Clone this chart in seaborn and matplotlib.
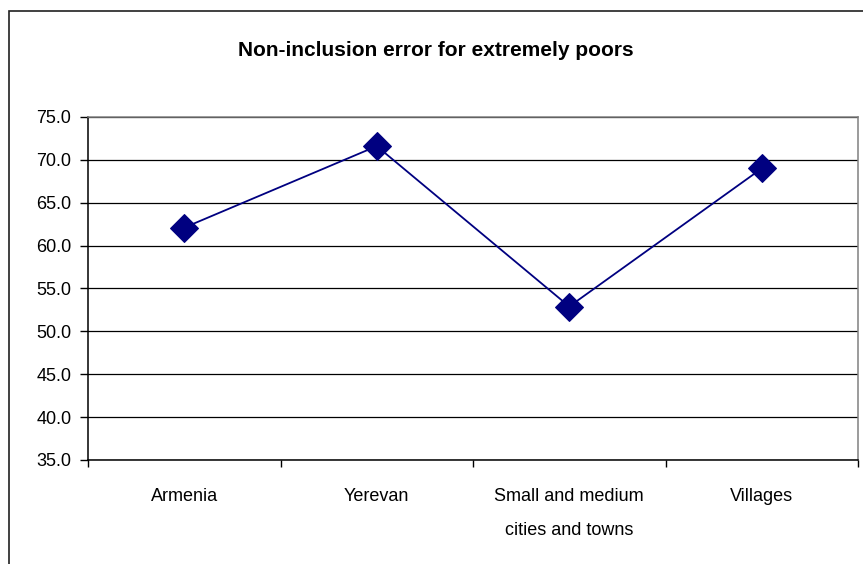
import numpy as np
import pandas as pd
import matplotlib.pyplot as plt
import seaborn as sns
from matplotlib.patches import Rectangle

regions = ['Armenia', 'Yerevan', 'Small and medium\ncities and towns', 'Villages']
error_pct = [62.1, 71.6, 52.9, 69.0]
y_ticks = [35, 40, 45, 50, 55, 60, 65, 70, 75]

sns.set_theme(style='white')
plt.rcParams['font.family'] = ['Liberation Sans', 'DejaVu Sans']
plt.rcParams['text.color'] = 'black'
plt.rcParams['xtick.color'] = 'black'
plt.rcParams['ytick.color'] = 'black'
plt.rcParams['xtick.bottom'] = True
plt.rcParams['ytick.left'] = True

df = pd.DataFrame({'region': regions, 'value': error_pct})

fig = plt.figure(figsize=(8.63, 5.64), dpi=100)
ax = fig.add_axes([88 / 863, 1 - 460 / 564, (858 - 88) / 863, (460 - 117) / 564])

sns.lineplot(ax=ax, data=df, x='region', y='value', sort=False,
             color='#000080', linewidth=1.3, marker='D', markersize=14,
             markeredgecolor='#000080', markerfacecolor='#000080')

ax.set_xlim(-0.5, 3.5)
ax.set_ylim(35, 75)
ax.set_yticks(y_ticks)
ax.set_yticklabels([f'{v:.1f}' for v in y_ticks], fontsize=13)
ax.set_xticks(range(len(regions)))
ax.set_xticklabels(regions, fontsize=13, linespacing=2.35)
ax.set_xticks([-0.5, 0.5, 1.5, 2.5, 3.5], minor=True)
ax.tick_params(axis='x', which='major', bottom=True, length=0, pad=20)
ax.tick_params(axis='x', which='minor', bottom=True, length=5, width=1, color='black', direction='out')
ax.tick_params(axis='y', left=True, length=6, width=1, color='black', direction='out', pad=6)
for lbl in ax.get_xticklabels():
    lbl.set_verticalalignment('top')
ax.set_xlabel('')
ax.set_ylabel('')

ax.yaxis.grid(True, color='black', linewidth=0.9)
ax.set_axisbelow(True)
for side in ['left', 'bottom']:
    ax.spines[side].set_color('black')
    ax.spines[side].set_linewidth(1.1)
for side in ['top', 'right']:
    ax.spines[side].set_color('#808080')
    ax.spines[side].set_linewidth(1.1)

fig.text(0.505, 1 - 50 / 564, 'Non-inclusion error for extremely poors',
         ha='center', va='center', fontsize=15, fontweight='bold')

fig.patches.append(Rectangle((9 / 863, -0.1), 1.2, 1 - 11 / 564 + 0.1,
                             transform=fig.transFigure, fill=False,
                             edgecolor='#202020', linewidth=1.2))

fig.savefig('out.png', dpi=100)
